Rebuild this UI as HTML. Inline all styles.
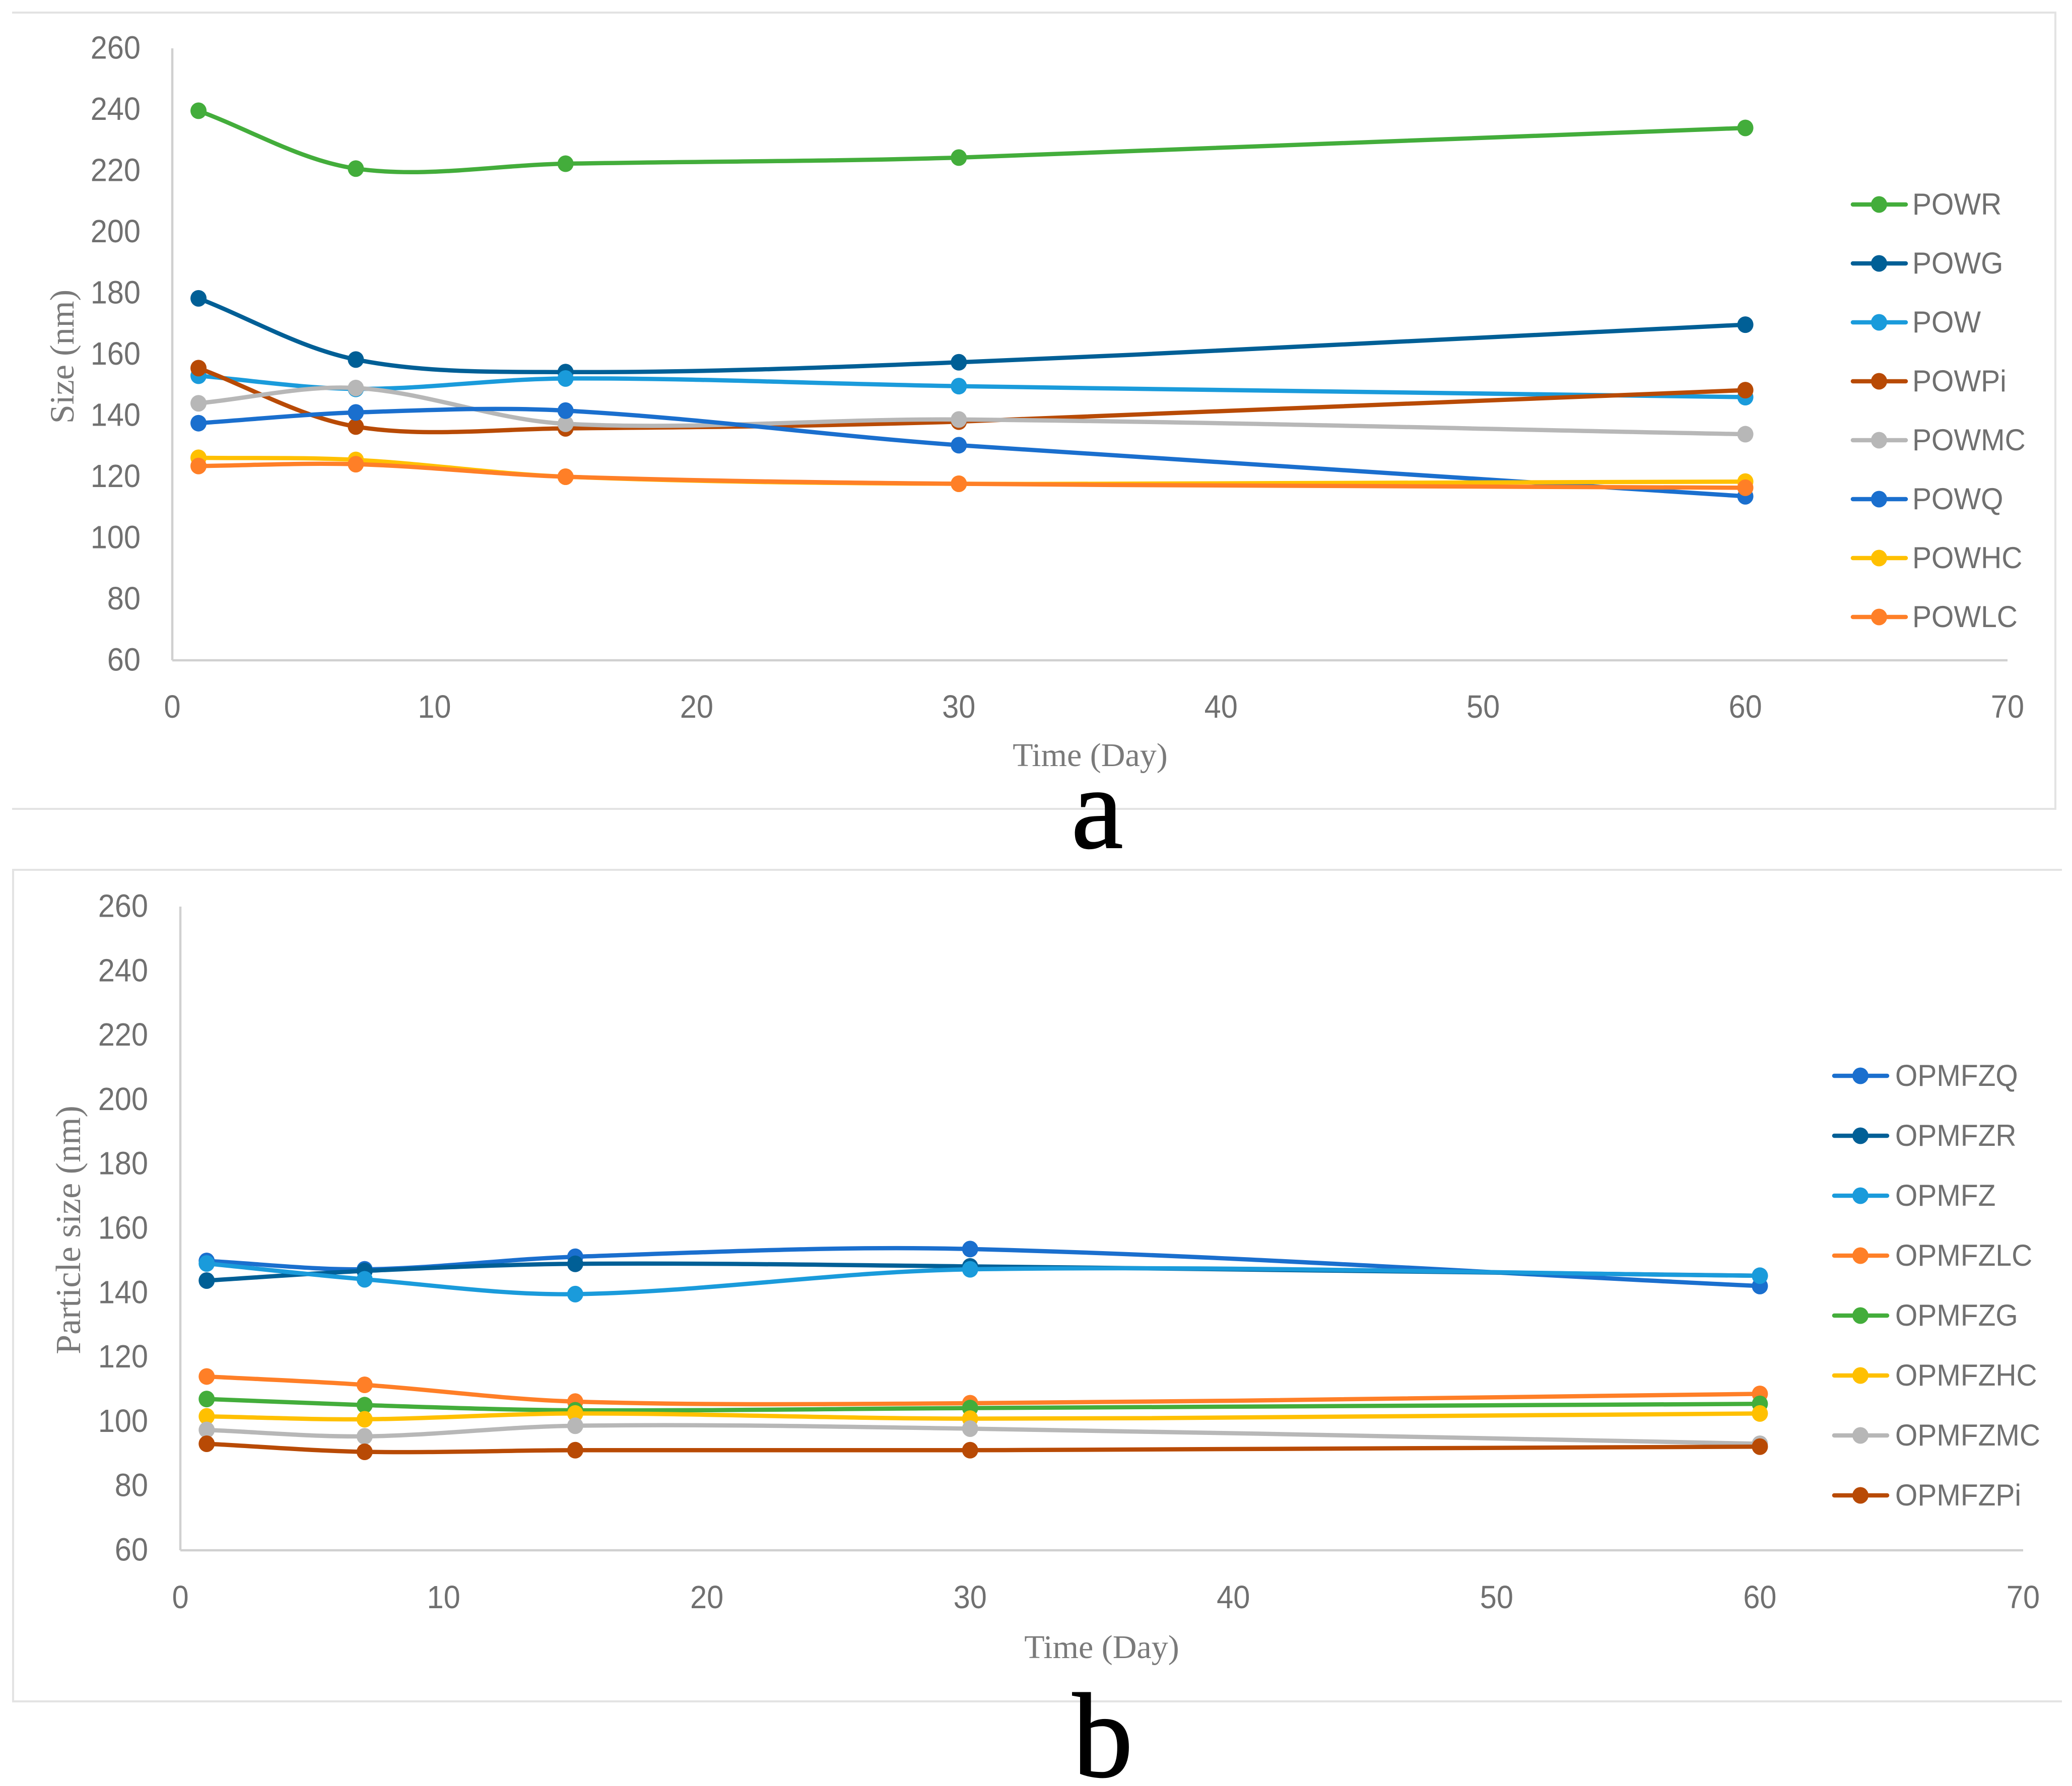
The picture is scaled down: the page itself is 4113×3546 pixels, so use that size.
<!DOCTYPE html>
<html lang="en">
<head>
<meta charset="utf-8">
<title>Size over time charts</title>
<style>
html,body{margin:0;padding:0;background:#fff;width:4113px;height:3546px;overflow:hidden}
svg{display:block}
.tick{font-family:"Liberation Sans",sans-serif;font-size:64px;fill:#707070}
.legend{font-family:"Liberation Sans",sans-serif;font-size:60px;fill:#707070}
.title{font-family:"Liberation Serif",serif;fill:#7a7a7a}
.letter{font-family:"Liberation Serif",serif;fill:#000;stroke:#000;stroke-width:2}
</style>
</head>
<body>
<svg id="figure" xmlns="http://www.w3.org/2000/svg" width="4113" height="3546" viewBox="0 0 4113 3546">
  <rect x="0" y="0" width="4113" height="3546" fill="#ffffff"/>
  <path d="M24 25H4080V1606H24" fill="none" stroke="#e3e3e3" stroke-width="4"/>
  <path d="M4093 1727H26V3378H4093" fill="none" stroke="#e3e3e3" stroke-width="4"/>
  <g id="chart-a"></g>
  <g id="chart-b"></g>
  <text class="title" x="2164" y="1521" font-size="66" text-anchor="middle">Time (Day)</text>
  <text class="title" transform="translate(146,708) rotate(-90)" font-size="68" text-anchor="middle">Size (nm)</text>
  <text class="title" x="2187" y="3292" font-size="66" text-anchor="middle">Time (Day)</text>
  <text class="title" transform="translate(159,2442) rotate(-90)" font-size="70" text-anchor="middle">Particle size (nm)</text>
  <text class="letter" x="2178" y="1683" font-size="232" text-anchor="middle">a</text>
  <text class="letter" x="2189" y="3527" font-size="240" text-anchor="middle">b</text>
</svg>
<script>
const days = [1, 7, 15, 30, 60];
const xTicks = [0, 10, 20, 30, 40, 50, 60, 70];
const yTicks = [60, 80, 100, 120, 140, 160, 180, 200, 220, 240, 260];

const powrValues = [239.6, 220.7, 222.3, 224.3, 234];
const powgValues = [178.3, 158.3, 154.2, 157.4, 169.7];
const powValues = [153, 148.7, 152.1, 149.6, 146];
const powpiValues = [155.5, 136.4, 135.8, 138, 148.3];
const powmcValues = [144, 149, 137.3, 138.7, 133.9];
const powqValues = [137.5, 141, 141.6, 130.3, 113.6];
const powhcValues = [126.2, 125.5, 120, 117.7, 118.4];
const powlcValues = [123.5, 124.1, 120, 117.7, 116.4];

const opmfzqValues = [149.9, 147.3, 151.2, 153.6, 142.1];
const opmfzrValues = [143.8, 146.8, 149, 148.2, 145.3];
const opmfzValues = [149.1, 144.2, 139.6, 147.3, 145.3];
const opmfzlcValues = [114, 111.4, 106.2, 105.7, 108.6];
const opmfzgValues = [107, 105.1, 103.5, 104.2, 105.5];
const opmfzhcValues = [101.6, 100.7, 102.5, 100.9, 102.5];
const opmfzmcValues = [97.4, 95.4, 98.7, 97.8, 93.1];
const opmfzpiValues = [93.1, 90.6, 91.1, 91.1, 92.2];

const chartASeries = [
  { name: 'POWR', color: '#43ad3b', values: powrValues },
  { name: 'POWG', color: '#005f96', values: powgValues },
  { name: 'POW', color: '#1a9bdb', values: powValues },
  { name: 'POWPi', color: '#b84a05', values: powpiValues },
  { name: 'POWMC', color: '#b7b7b7', values: powmcValues },
  { name: 'POWQ', color: '#1a6fce', values: powqValues },
  { name: 'POWHC', color: '#ffc000', values: powhcValues },
  { name: 'POWLC', color: '#ff7f27', values: powlcValues }
];
const chartBSeries = [
  { name: 'OPMFZQ', color: '#1a6fce', values: opmfzqValues },
  { name: 'OPMFZR', color: '#005f96', values: opmfzrValues },
  { name: 'OPMFZ', color: '#1a9bdb', values: opmfzValues },
  { name: 'OPMFZLC', color: '#ff7f27', values: opmfzlcValues },
  { name: 'OPMFZG', color: '#43ad3b', values: opmfzgValues },
  { name: 'OPMFZHC', color: '#ffc000', values: opmfzhcValues },
  { name: 'OPMFZMC', color: '#b7b7b7', values: opmfzmcValues },
  { name: 'OPMFZPi', color: '#b84a05', values: opmfzpiValues }
];

const NS = 'http://www.w3.org/2000/svg';

function make(tag, attrs, parent) {
  const node = document.createElementNS(NS, tag);
  for (const key in attrs) node.setAttribute(key, attrs[key]);
  parent.appendChild(node);
  return node;
}

function smoothPath(pts) {
  let d = 'M' + pts[0][0] + ' ' + pts[0][1];
  const dist = (a, b) => Math.hypot(a[0] - b[0], a[1] - b[1]);
  const control = (prev, cur, next, len) => {
    const span = dist(prev, cur) + dist(cur, next);
    return [cur[0] + (next[0] - prev[0]) / span * len / 3,
            cur[1] + (next[1] - prev[1]) / span * len / 3];
  };
  for (let i = 0; i < pts.length - 1; i++) {
    const p0 = pts[Math.max(i - 1, 0)];
    const p1 = pts[i];
    const p2 = pts[i + 1];
    const p3 = pts[Math.min(i + 2, pts.length - 1)];
    const len = dist(p1, p2);
    const c1 = control(p0, p1, p2, len);
    const c2 = control(p3, p2, p1, len);
    d += 'C' + c1[0].toFixed(1) + ' ' + c1[1].toFixed(1) + ' ' +
         c2[0].toFixed(1) + ' ' + c2[1].toFixed(1) + ' ' +
         p2[0].toFixed(1) + ' ' + p2[1].toFixed(1);
  }
  return d;
}

function drawChart(root, layout, seriesList) {
  const xScale = v => layout.left + (v - 0) / (70 - 0) * (layout.right - layout.left);
  const yScale = v => layout.bottom - (v - 60) / (260 - 60) * (layout.bottom - layout.top);

  const yAxis = make('line', { x1: layout.left, x2: layout.left, y1: layout.top, y2: layout.bottom, stroke: '#d0d0d0', 'stroke-width': 4.5 }, root);
  
  
  const xAxis = make('line', { x1: layout.left, x2: layout.right, y1: layout.bottom, y2: layout.bottom, stroke: '#d0d0d0', 'stroke-width': 4.5 }, root);
  
  

  yTicks.forEach(t => {
    const label = make('text', { class: 'tick', transform: 'translate(' + layout.yLabelX + ',' + (yScale(t) + 20.5) + ') scale(0.93,1)', 'text-anchor': 'end' }, root);
    label.textContent = t;
    
    
  });
  xTicks.forEach(t => {
    const label = make('text', { class: 'tick', transform: 'translate(' + xScale(t) + ',' + layout.xLabelY + ') scale(0.93,1)', 'text-anchor': 'middle' }, root);
    label.textContent = t;
    
    
  });

  seriesList.forEach((s, idx) => {
    const group = make('g', {}, root);
    
    
    const pts = days.map((d, i) => [xScale(d), yScale(s.values[i])]);
    const line = make('path', { d: smoothPath(pts), fill: 'none', stroke: s.color, 'stroke-width': 8.5, 'stroke-linecap': 'round' }, group);
    
    
    pts.forEach(p => {
      const dot = make('ellipse', { cx: p[0], cy: p[1], rx: 16, ry: 16.5, fill: s.color }, group);
      
      
    });

    const y = layout.legendTop + idx * layout.legendStep;
    const entry = make('g', {}, root);
    
    
    const key = make('line', { x1: layout.legendX + 4, x2: layout.legendX + 109, y1: y, y2: y, stroke: s.color, 'stroke-width': 8.5, 'stroke-linecap': 'round' }, entry);
    
    
    const keyDot = make('ellipse', { cx: layout.legendX + 56, cy: y, rx: 16, ry: 16.5, fill: s.color }, entry);
    
    
    const text = make('text', { class: 'legend', transform: 'translate(' + (layout.legendX + layout.legendTextGap) + ',' + (y + 20) + ') scale(0.95,1)' }, entry);
    text.textContent = s.name;
    
    
  });
}

const layoutA = { left: 342, right: 3985, top: 96, bottom: 1311, yLabelX: 279, xLabelY: 1425, legendX: 3674, legendTop: 406, legendStep: 117, legendTextGap: 122 };
const layoutB = { left: 358, right: 4016, top: 1800, bottom: 3078, yLabelX: 294, xLabelY: 3193, legendX: 3637, legendTop: 2136, legendStep: 119, legendTextGap: 125 };

drawChart(document.getElementById('chart-a'), layoutA, chartASeries);
drawChart(document.getElementById('chart-b'), layoutB, chartBSeries);
</script>
</body>
</html>
